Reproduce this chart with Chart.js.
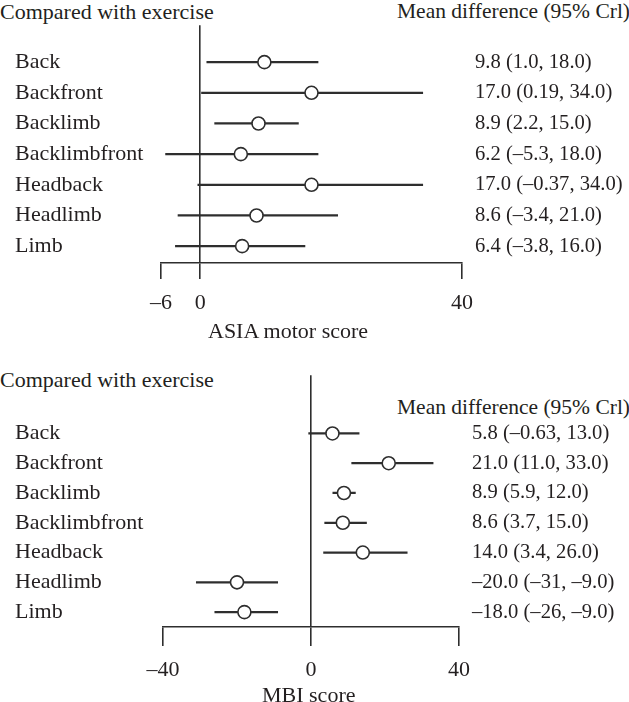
<!DOCTYPE html>
<html>
<head>
<meta charset="utf-8">
<script src="https://cdn.jsdelivr.net/npm/chart.js@4"></script>
<style>
  body { margin: 0; background: #fff; }
  #wrap { position: relative; width: 629px; height: 702px; overflow: hidden; font-family: "Liberation Serif", serif; color: #231f20; }
  .txt { position: absolute; font-size: 22px; white-space: nowrap; line-height: 1; }
  .hdr { font-size: 21.5px; }
  canvas { position: absolute; left: 0; }
</style>
</head>
<body>
<div id="wrap">
  <div class="txt" style="left:0;top:1px">Compared with exercise</div>
  <div class="txt hdr" style="left:397px;top:1px">Mean difference (95% Crl)</div>
  <div style="position:absolute;left:0;top:0;width:629px;height:350px"><canvas id="chartA"></canvas></div>
  <div class="txt" style="left:208px;top:320px">ASIA motor score</div>

  <div class="txt" style="left:0;top:369px">Compared with exercise</div>
  <div class="txt hdr" style="left:397px;top:397px">Mean difference (95% Crl)</div>
  <div style="position:absolute;left:0;top:350px;width:629px;height:352px"><canvas id="chartB"></canvas></div>
  <div class="txt" style="left:262px;top:684px">MBI score</div>
</div>

<script>
// treatments compared with exercise (same for both outcomes)
const groups = ['Back', 'Backfront', 'Backlimb', 'Backlimbfront', 'Headback', 'Headlimb', 'Limb'];

// ASIA motor score
const asiaMean = [9.8, 17.0, 8.9, 6.2, 17.0, 8.6, 6.4];
const asiaLow  = [1.0, 0.19, 2.2, -5.3, -0.37, -3.4, -3.8];
const asiaHigh = [18.0, 34.0, 15.0, 18.0, 34.0, 21.0, 16.0];
const asiaTicks = [-6, 0, 40];
const asiaText = ['9.8 (1.0, 18.0)', '17.0 (0.19, 34.0)', '8.9 (2.2, 15.0)', '6.2 (–5.3, 18.0)',
                  '17.0 (–0.37, 34.0)', '8.6 (–3.4, 21.0)', '6.4 (–3.8, 16.0)'];

// MBI score
const mbiMean = [5.8, 21.0, 8.9, 8.6, 14.0, -20.0, -18.0];
const mbiLow  = [-0.63, 11.0, 5.9, 3.7, 3.4, -31, -26];
const mbiHigh = [13.0, 33.0, 12.0, 15.0, 26.0, -9.0, -9.0];
const mbiTicks = [-40, 0, 40];
const mbiText = ['5.8 (–0.63, 13.0)', '21.0 (11.0, 33.0)', '8.9 (5.9, 12.0)', '8.6 (3.7, 15.0)',
                 '14.0 (3.4, 26.0)', '–20.0 (–31, –9.0)', '–18.0 (–26, –9.0)'];

const ink = '#2e2e2e';
const font = { family: '"Liberation Serif", serif', size: 22 };
const fontRight = { family: '"Liberation Serif", serif', size: 20.6 };

function minus(v) {
    return v < 0 ? '–' + Math.abs(v) : String(v);
}

function forest(id, mean, low, high, ticks, text, opts) {
    const ctx = document.getElementById(id).getContext('2d');
    new Chart(ctx, {
        type: 'bar',
        data: {
            datasets: [{
                // credible interval whiskers as floating bars
                data: groups.map((g, i) => ({ y: i, x: [low[i], high[i]] })),
                backgroundColor: ink,
                barThickness: 1.6,
                order: 2
            }, {
                type: 'scatter',
                data: groups.map((g, i) => ({ x: mean[i], y: i })),
                pointStyle: 'circle',
                pointRadius: 6.5,
                pointHoverRadius: 6.5,
                backgroundColor: '#fff',
                borderColor: ink,
                borderWidth: 1.6,
                order: 1
            }]
        },
        options: {
            indexAxis: 'y',
            responsive: true,
            maintainAspectRatio: false,
            animation: false,
            layout: { padding: { top: opts.top, left: 15, right: 0, bottom: 0 } },
            plugins: { legend: { display: false }, tooltip: { enabled: false } },
            scales: {
                x: {
                    type: 'linear',
                    min: ticks[0],
                    max: ticks[ticks.length - 1],
                    afterBuildTicks: s => { s.ticks = ticks.map(v => ({ value: v })); },
                    afterFit: s => { s.height = opts.xHeight; },
                    border: { display: true, color: ink, width: 1.6 },
                    grid: {
                        drawOnChartArea: true,
                        color: c => (c.tick && c.tick.value === 0) ? ink : 'rgba(0,0,0,0)',
                        lineWidth: 1.6,
                        tickColor: ink,
                        tickWidth: 1.6,
                        tickLength: opts.tickLen
                    },
                    ticks: { color: '#231f20', font: font, padding: 11, maxRotation: 0, callback: v => minus(v) }
                },
                y: {
                    type: 'linear',
                    reverse: true,
                    offset: false,
                    min: opts.yMin,
                    max: opts.yMax,
                    afterBuildTicks: s => { s.ticks = groups.map((g, i) => ({ value: i })); },
                    afterFit: s => { s.width = opts.left - 15; },
                    border: { display: false },
                    grid: { display: false, drawTicks: false, offset: false },
                    ticks: { color: '#231f20', font: font, crossAlign: 'far', padding: 0, callback: v => groups[v] }
                },
                y2: {
                    type: 'linear',
                    position: 'right',
                    reverse: true,
                    offset: false,
                    min: opts.yMin,
                    max: opts.yMax,
                    afterBuildTicks: s => { s.ticks = text.map((t, i) => ({ value: i })); },
                    afterFit: s => { s.width = 629 - opts.right; },
                    border: { display: false },
                    grid: { display: false, drawTicks: false, offset: false },
                    ticks: { color: '#231f20', font: fontRight, padding: 13, callback: v => text[v] }
                }
            }
        }
    });
}

forest('chartA', asiaMean, asiaLow, asiaHigh, asiaTicks, asiaText,
       { top: 25, left: 161, right: 462, xHeight: 87, tickLen: 16, yMin: -1.2, yMax: 6.55 });
forest('chartB', mbiMean, mbiLow, mbiHigh, mbiTicks, mbiText,
       { top: 22, left: 163, right: 459, xHeight: 75, tickLen: 19, yMin: -1.95, yMax: 6.5 });
</script>
</body>
</html>
